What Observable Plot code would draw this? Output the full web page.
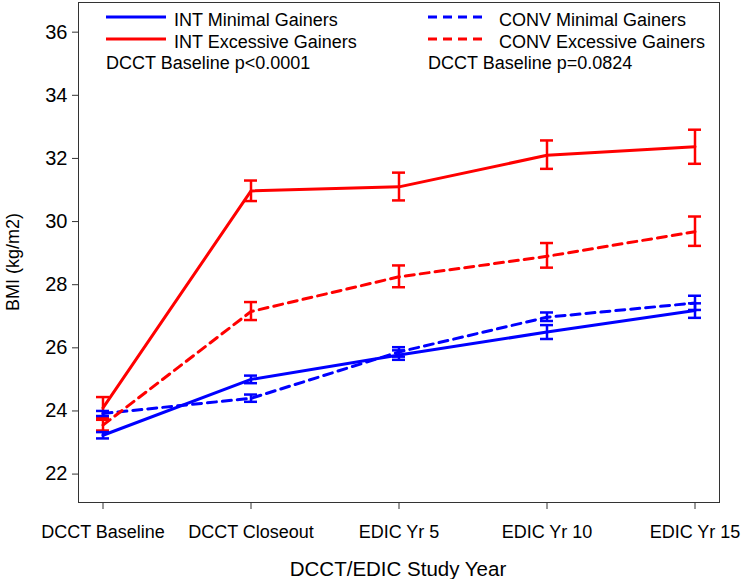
<!DOCTYPE html>
<html>
<head>
<meta charset="utf-8">
<script src="https://cdn.jsdelivr.net/npm/d3@7"></script>
<script src="https://cdn.jsdelivr.net/npm/@observablehq/plot@0.6"></script>
<style>
  html, body { margin: 0; padding: 0; background: #fff; }
  #chart svg { display: block; }
</style>
</head>
<body>
<div id="chart"></div>
<script>
// ---- data ----
const years = ["DCCT Baseline", "DCCT Closeout", "EDIC Yr 5", "EDIC Yr 10", "EDIC Yr 15"];
const yTicks = [22, 24, 26, 28, 30, 32, 34, 36];

const seriesNames = ["INT Minimal Gainers", "INT Excessive Gainers", "CONV Minimal Gainers", "CONV Excessive Gainers"];
const seriesColors = ["#0000ff", "#ff0000", "#0000ff", "#ff0000"];
const seriesDashed = [false, false, true, true];

const intMinMean = [23.23, 25.00, 25.77, 26.50, 27.18];
const intMinLo   = [23.13, 24.88, 25.62, 26.28, 26.95];
const intMinHi   = [23.33, 25.12, 25.92, 26.72, 27.41];

const intExcMean = [24.10, 30.97, 31.10, 32.10, 32.37];
const intExcLo   = [23.78, 30.65, 30.67, 31.67, 31.83];
const intExcHi   = [24.44, 31.30, 31.55, 32.57, 32.91];

const convMinMean = [23.92, 24.40, 25.87, 26.97, 27.42];
const convMinLo   = [23.84, 24.29, 25.72, 26.85, 27.20];
const convMinHi   = [24.00, 24.52, 26.02, 27.12, 27.65];

const convExcMean = [23.55, 27.15, 28.25, 28.90, 29.68];
const convExcLo   = [23.38, 26.88, 27.92, 28.54, 29.23];
const convExcHi   = [23.72, 27.45, 28.61, 29.32, 30.16];

const legendNotes = ["DCCT Baseline p<0.0001", "DCCT Baseline p=0.0824"];
const xTitle = "DCCT/EDIC Study Year";
const yTitle = "BMI (kg/m2)";

// ---- build table ----
const means = [intMinMean, intExcMean, convMinMean, convExcMean];
const los = [intMinLo, intExcLo, convMinLo, convExcLo];
const his = [intMinHi, intExcHi, convMinHi, convExcHi];
const seriesRows = seriesNames.map((name, s) =>
  years.map((yr, i) => ({year: yr, group: name, mean: means[s][i], lo: los[s][i], hi: his[s][i], color: seriesColors[s]}))
);
const allRows = seriesRows.flat();

const FONT = "Arial, 'Liberation Sans', Helvetica, sans-serif";

const lineMarks = seriesRows.map((rows, s) =>
  Plot.line(rows, {
    x: "year", y: "mean", stroke: seriesColors[s], strokeWidth: 3,
    strokeDasharray: seriesDashed[s] ? "9,6" : null
  })
);

const chart = Plot.plot({
  width: 742,
  height: 579,
  marginLeft: 78,
  marginRight: 23,
  marginTop: 2,
  marginBottom: 77,
  style: {fontFamily: FONT, fontSize: "18px", color: "#000", background: "#fff"},
  x: {type: "band", domain: years, paddingInner: 0.912, paddingOuter: 0.114, axis: null},
  y: {domain: [21.1, 36.94], axis: null},
  color: {type: "identity"},
  marks: [
    Plot.frame({stroke: "#333", strokeWidth: 1}),
    Plot.axisY({ticks: yTicks, tickSize: 6, tickPadding: 5, fontSize: 20, label: null, stroke: "#333"}),
    Plot.axisX({tickSize: 7, tickPadding: 16, fontSize: 18, label: null, stroke: "#333"}),
    Plot.ruleX(allRows, {x: "year", y1: "lo", y2: "hi", stroke: "color", strokeWidth: 2.5}),
    Plot.tickY(allRows, {x: "year", y: "lo", stroke: "color", strokeWidth: 2.5}),
    Plot.tickY(allRows, {x: "year", y: "hi", stroke: "color", strokeWidth: 2.5}),
    ...lineMarks
  ]
});

document.getElementById("chart").appendChild(chart);

// ---- axis titles and legend (layout only) ----
const svg = d3.select(chart);
svg.append("text")
  .attr("x", 398).attr("y", 568)
  .attr("text-anchor", "middle").attr("dominant-baseline", "central")
  .style("font-family", FONT).style("font-size", "20.5px").attr("fill", "#000")
  .text(xTitle);
svg.append("text")
  .attr("transform", "translate(13,262) rotate(-90)")
  .attr("text-anchor", "middle").attr("dominant-baseline", "central")
  .style("font-family", FONT).style("font-size", "18px").attr("fill", "#000")
  .text(yTitle);

const legCols = [{lx: 106, tx: 174}, {lx: 428, tx: 499}];
const legRowsY = [18, 40];
const lg = svg.append("g").style("font-family", FONT).style("font-size", "18px")
  .attr("text-anchor", "start");
seriesNames.forEach((name, s) => {
  const col = legCols[seriesDashed[s] ? 1 : 0];
  const y = legRowsY[s % 2];
  lg.append("line")
    .attr("x1", col.lx).attr("x2", col.lx + 60).attr("y1", y - 1).attr("y2", y - 1)
    .attr("stroke", seriesColors[s]).attr("stroke-width", 3)
    .attr("stroke-dasharray", seriesDashed[s] ? "9,6" : null);
  lg.append("text").attr("x", col.tx).attr("y", y + 2)
    .attr("text-anchor", "start")
    .attr("dominant-baseline", "central").attr("fill", "#000").text(name);
});
legendNotes.forEach((t, i) => {
  lg.append("text").attr("x", legCols[i].lx).attr("y", 63)
    .attr("text-anchor", "start")
    .attr("dominant-baseline", "central").attr("fill", "#000").text(t);
});
</script>
</body>
</html>
